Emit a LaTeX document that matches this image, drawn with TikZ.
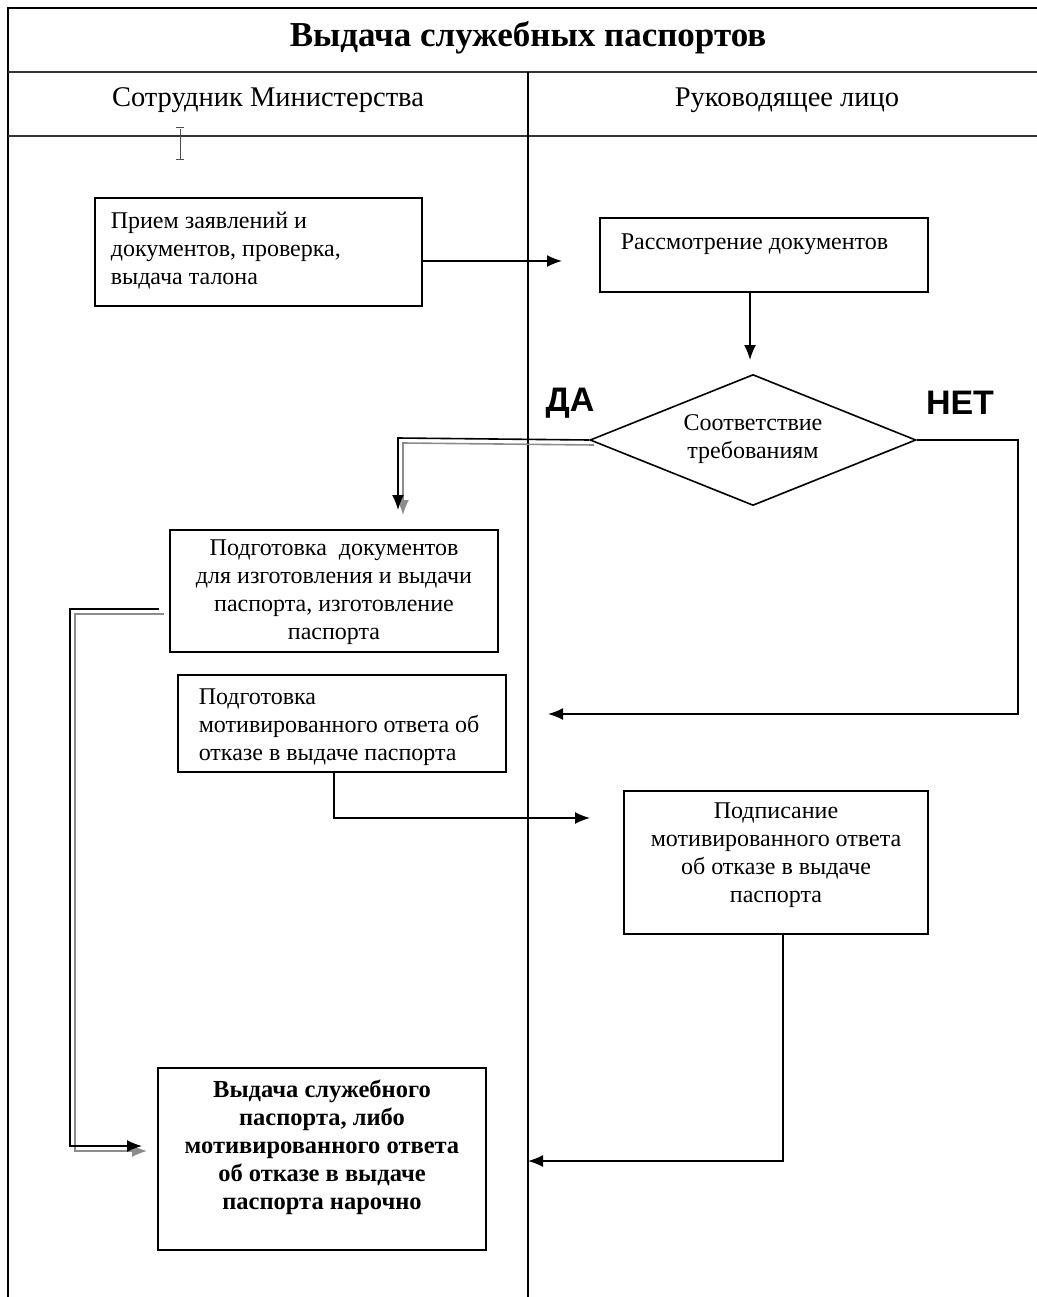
\documentclass[tikz,border=0pt]{standalone}
\usepackage{fontspec}
\setmainfont{Liberation Serif}
\newfontfamily\sansb{Liberation Sans}
\usetikzlibrary{shapes.geometric,arrows.meta,calc}
\begin{document}
\begin{tikzpicture}[x=1pt,y=-1pt,
  line width=1.6pt,
  box/.style={draw,line width=1.6pt,rectangle,inner sep=0pt},
  conn/.style={line width=1.6pt,-{Latex[length=15pt,width=12pt]}},
  dbl/.style={line width=1.6pt,-{Latex[length=15pt,width=12pt]}},
  shadowline/.style={dbl,black!45,transform canvas={xshift=5pt,yshift=-5pt}},
  lbl/.style={font=\fontsize{24}{28}\selectfont,inner sep=0pt}]
\useasboundingbox (0,0) rectangle (1036,1297);
% frame
\draw[line width=1.8pt] (8,1297) -- (8,8) -- (1040,8);
\draw[line width=2.5pt,black!80] (8,72) -- (1040,72);
\draw[line width=2.5pt,black!80] (8,136) -- (1040,136);
\draw[line width=1.5pt] (528,72) -- (528,1297);
\node[font=\bfseries\fontsize{35}{40}\selectfont] (title) at (528,38) {Выдача служебных паспортов};
\node[font=\fontsize{28.5}{32}\selectfont] (lane1) at (268,100) {Сотрудник Министерства};
\node[font=\fontsize{28.5}{32}\selectfont] (lane2) at (787,100) {Руководящее лицо};
% cursor
\draw[line width=1pt,black!70] (180,129) -- (180,159) (176,128) -- (184,128) (176,160) -- (184,160);
% boxes
\node[box,minimum width=327pt,minimum height=108pt] (b1) at (258.5,252) {};
\node[lbl,anchor=west,align=left] at (110,251) {Прием заявлений и\\документов, проверка,\\выдача талона};
\node[box,minimum width=328pt,minimum height=74pt] (b2) at (764,255) {};
\node[lbl,anchor=west] at (620,244) {Рассмотрение документов};
\node[draw,diamond,line width=1.6pt,minimum width=326pt,minimum height=131pt,inner sep=0pt] (d) at (753,440) {};
\node[lbl,align=center] at (753,439) {Соответствие\\требованиям};
\node[font=\sansb\bfseries\fontsize{34}{38}\selectfont] (da) at (570,403) {ДА};
\node[font=\sansb\bfseries\fontsize{34}{38}\selectfont] (net) at (960,403) {НЕТ};
\node[box,minimum width=328pt,minimum height=122pt] (b3) at (334,591) {};
\node[lbl,align=center] at (334,592.5) {Подготовка\ \ документов\\для изготовления и выдачи\\паспорта, изготовление\\паспорта};
\node[box,minimum width=328pt,minimum height=97pt] (b4) at (342,723.5) {};
\node[lbl,anchor=west,align=left] at (198,727) {Подготовка\\мотивированного ответа об\\отказе в выдаче паспорта};
\node[box,minimum width=304pt,minimum height=143pt] (b5) at (776,862.5) {};
\node[lbl,align=center] at (776,855) {Подписание\\мотивированного ответа\\об отказе в выдаче\\паспорта};
\node[box,minimum width=328pt,minimum height=182pt] (b6) at (322,1159) {};
\node[lbl,align=center,font=\bfseries\fontsize{24.5}{28}\selectfont] at (322,1147) {Выдача служебного\\паспорта, либо\\мотивированного ответа\\об отказе в выдаче\\паспорта нарочно};
% free ends
\coordinate (e1) at (562,261);
\coordinate (e2) at (750,360);
\coordinate (e3) at (398,510);
\coordinate (e4) at (548,714);
\coordinate (e5) at (590,818);
\coordinate (e6) at (528,1161);
\coordinate (e7) at (142,1146);
% connectors
\draw[conn] (b1.east |- e1) -- (e1);
\draw[conn] (b2.south -| e2) -- (e2);
\draw[conn] (d.east) -- (1018,440) -- (1018,714) -- (e4);
\draw[conn] ([xshift=-8pt]b4.south) |- (e5);
\draw[conn] (b5.south -| 783,0) -- (783,1161) -- (e6);
% double connectors (black + gray shadow)
\draw[shadowline] (d.west) -- (398,438) -- (e3);
\draw[dbl] (d.west) -- (398,438) -- (e3);
\draw[shadowline] ([xshift=-10pt]b3.west |- 0,609) -- (70,609) -- (70,1146) -- (e7);
\draw[dbl] ([xshift=-10pt]b3.west |- 0,609) -- (70,609) -- (70,1146) -- (e7);
\end{tikzpicture}
\end{document}
